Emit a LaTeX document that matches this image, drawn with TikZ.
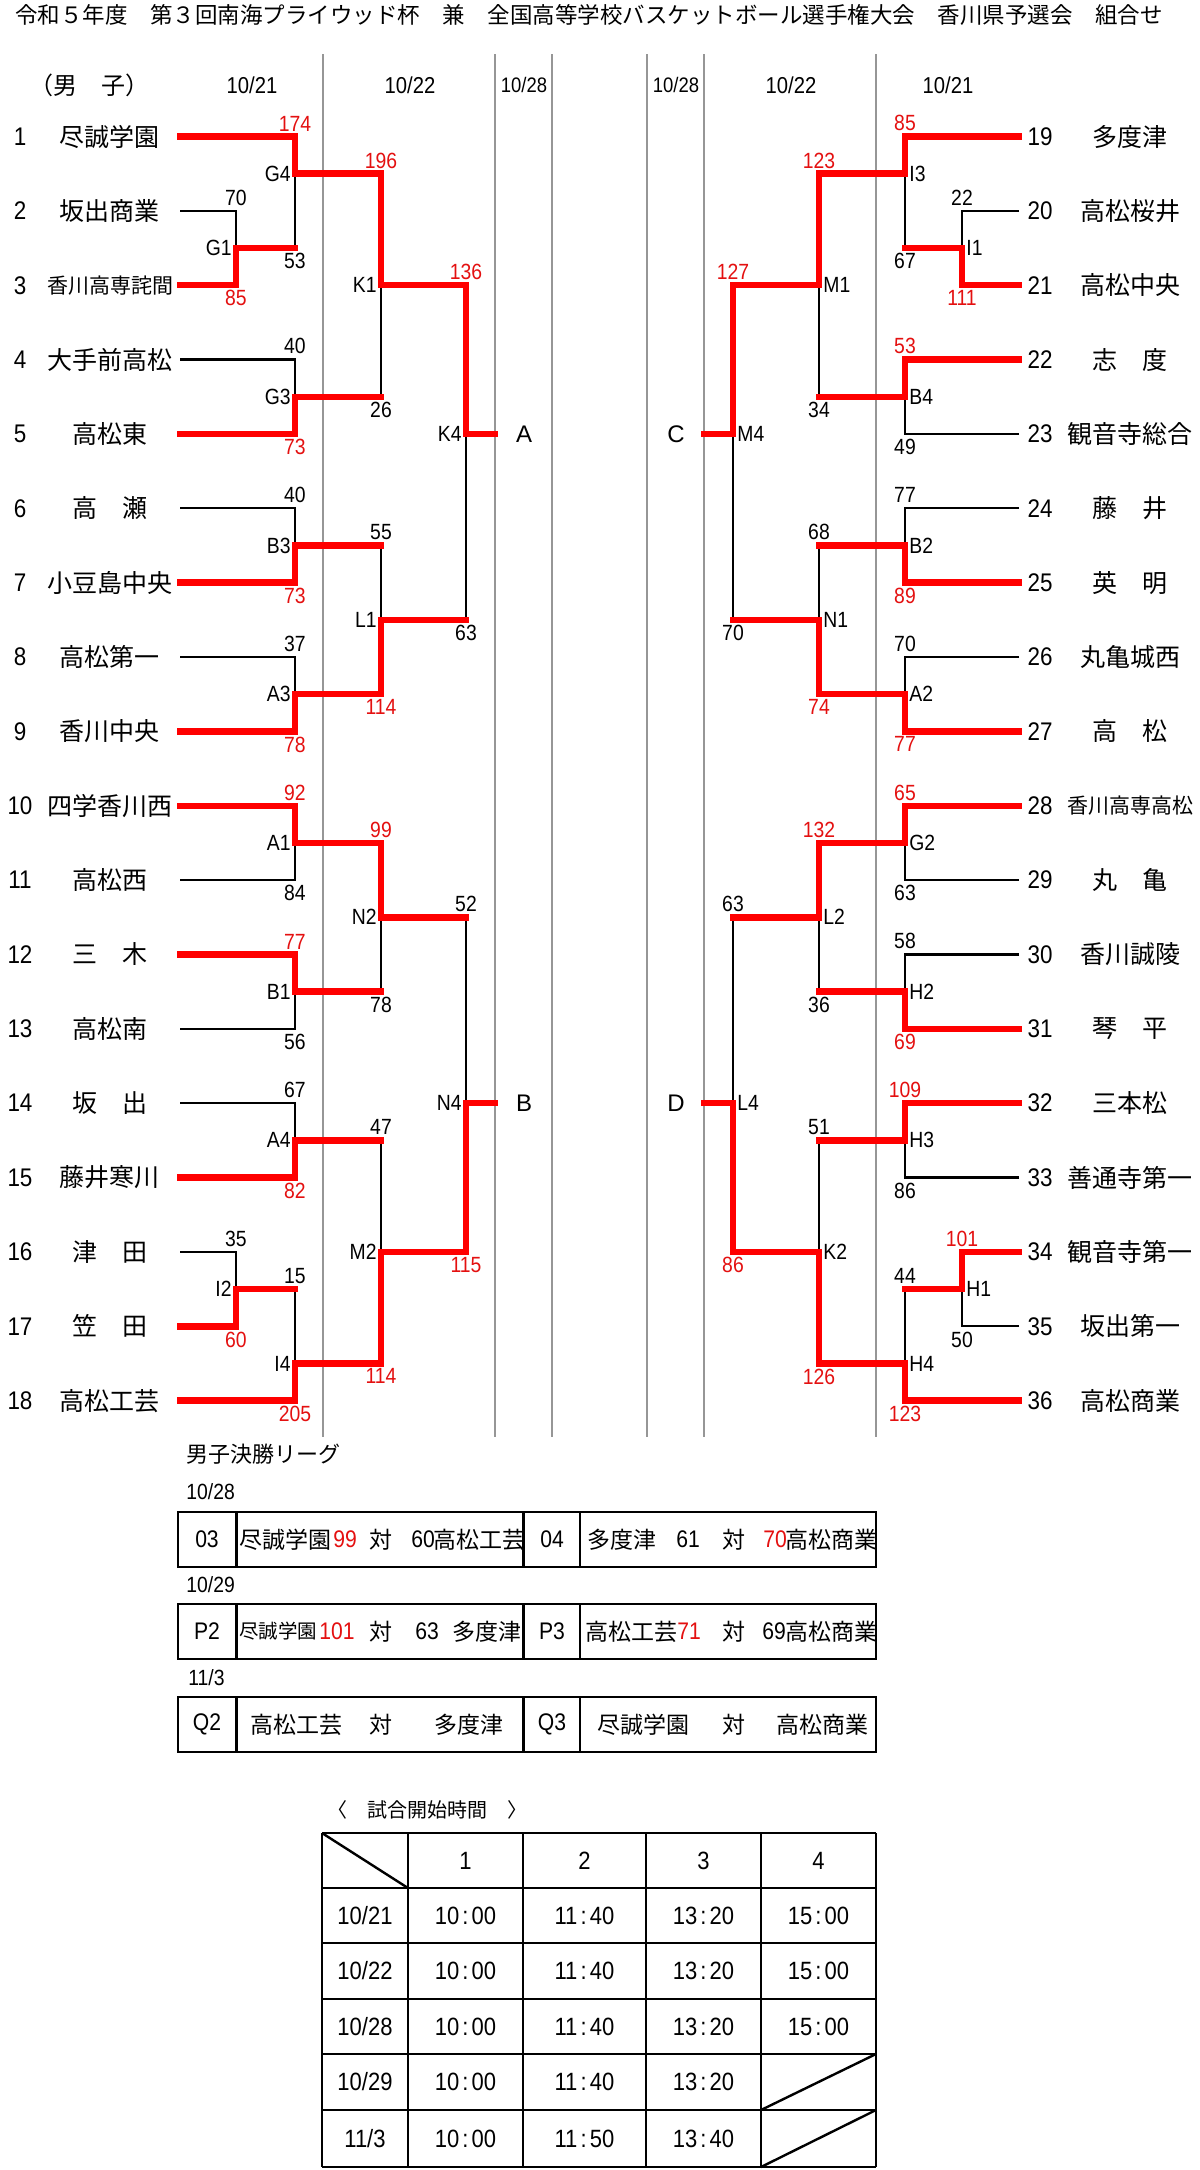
\documentclass[tikz,border=0pt]{standalone}
\usepackage{fontspec}
\setmainfont{Noto Sans CJK JP}
\newfontfamily\numf{Liberation Sans}[FakeStretch=0.88]
\newfontfamily\latf{Liberation Sans}
\pgfdeclarelayer{back}
\pgfdeclarelayer{bg}
\pgfsetlayers{back,bg,main}
\definecolor{rline}{RGB}{255,0,0}
\definecolor{rtxt}{RGB}{228,16,16}
\definecolor{gcol}{RGB}{150,150,150}
\newcommand{\RowY}[1]{136.5+#1*37.18}
\newcommand{\wfeed}[2]{\draw[win] (#1) -| (#2);}
\newcommand{\lteam}[2]{\begin{pgfonlayer}{bg}\draw[lose] (#1) -| (#2);\end{pgfonlayer}}
\newcommand{\lmatch}[2]{\draw[win] (#1) -- (#1 -| #2);\begin{pgfonlayer}{bg}\draw[lose] (#1 -| #2) -- (#2);\end{pgfonlayer}}
\newcommand{\usc}[4][black]{\node[score,text=#1,anchor=south] (s-#2-#3) at (#2 -| #3) {#4};}
\newcommand{\dsc}[4][black]{\node[score,text=#1,anchor=north] (s-#2-#3) at (#2 -| #3) {#4};}
\newcommand{\mL}[2]{\node[mlab,anchor=east] (lab-#1) at (#1) {#2};}
\newcommand{\mR}[2]{\node[mlab,anchor=west] (lab-#1) at (#1) {#2};}
\newcommand{\tm}[2]{#1\kern1.6pt:\kern1.6pt#2}
\begin{document}
\begin{tikzpicture}[x=0.5pt,y=-0.5pt,
  win/.style={draw=rline,line width=3.25pt,line cap=rect,line join=miter},
  lose/.style={draw=black,line width=1.1pt,line join=miter},
  gline/.style={draw=gcol,line width=0.7pt},
  score/.style={font=\numf\fontsize{11}{12}\selectfont,inner sep=2.5pt},
  mlab/.style={font=\numf\fontsize{11}{12}\selectfont,inner sep=2pt},
  tname/.style={font=\fontsize{12.5}{14}\selectfont,inner sep=0pt},
  tnum/.style={font=\numf\fontsize{12.75}{14}\selectfont,inner sep=0pt},
  datelab/.style={font=\numf\fontsize{11.5}{13}\selectfont,inner sep=0pt},
  abcd/.style={font=\latf\fontsize{12}{14}\selectfont,inner sep=0pt},
  tbl/.style={draw=black,line width=1.3pt},
  tgrid/.style={draw=black,line width=1pt},
  ttxt/.style={font=\fontsize{11.5}{13}\selectfont,inner sep=0pt},
  tdig/.style={font=\numf\fontsize{12}{13}\selectfont,inner sep=0pt},
  stxt/.style={font=\numf\fontsize{12.5}{14}\selectfont,inner sep=0pt}]
\useasboundingbox (0,0) rectangle (1200,2170);
\begin{pgfonlayer}{back}
\fill[white] (0,0) rectangle (1200,2170);
\end{pgfonlayer}

% title
\node[anchor=west,inner sep=0pt,font=\fontsize{11.25}{13}\selectfont] (title) at (15,15) {令和５年度　第３回南海プライウッド杯　兼　全国高等学校バスケットボール選手権大会　香川県予選会　組合せ};

% column lines and dates
\begin{pgfonlayer}{bg}
\foreach \x in {323,495,552,647,704,876} \draw[gline] (\x,54) -- (\x,1437);
\end{pgfonlayer}
\node[font=\fontsize{12}{14}\selectfont,inner sep=0pt] (danshi) at (89,85) {（男　子）};
\node[datelab] (dl1) at (252,85) {10/21};
\node[datelab] (dl2) at (410,85) {10/22};
\node[datelab,font=\numf\fontsize{10.5}{12}\selectfont] (dl3) at (524,85) {10/28};
\node[datelab,font=\numf\fontsize{10.5}{12}\selectfont] (dr3) at (676,85) {10/28};
\node[datelab] (dr2) at (791,85) {10/22};
\node[datelab] (dr1) at (948,85) {10/21};

% team coordinates
\foreach \k in {1,...,18}{\coordinate (t\k) at (180,{\RowY{(2*\k-2)}});}
\foreach \k in {19,...,36}{\coordinate (t\k) at (1019,{\RowY{(2*\k-38)}});}

% team names
\foreach \k/\nm in {1/尽誠学園,2/坂出商業,3/{\fontsize{10.5}{12}\selectfont 香川高専詫間},4/大手前高松,5/高松東,6/高　瀬,7/小豆島中央,8/高松第一,9/香川中央,10/四学香川西,11/高松西,12/三　木,13/高松南,14/坂　出,15/藤井寒川,16/津　田,17/笠　田,18/高松工芸}{
  \node[tname] (nm\k) at (110,{\RowY{(2*\k-2)}}) {\nm};
  \node[tnum] (no\k) at (20,{\RowY{(2*\k-2)}}) {\k};
}
\foreach \k/\nm in {19/多度津,20/高松桜井,21/高松中央,22/志　度,23/観音寺総合,24/藤　井,25/英　明,26/丸亀城西,27/高　松,28/{\fontsize{10.5}{12}\selectfont 香川高専高松},29/丸　亀,30/香川誠陵,31/琴　平,32/三本松,33/善通寺第一,34/観音寺第一,35/坂出第一,36/高松商業}{
  \node[tname] (nm\k) at (1130,{\RowY{(2*\k-38)}}) {\nm};
  \node[tnum] (no\k) at (1040,{\RowY{(2*\k-38)}}) {\k};
}

% match coordinates (left)
\coordinate (G1) at (236,{\RowY{3}});
\coordinate (G4) at (295,{\RowY{1}});
\coordinate (G3) at (295,{\RowY{7}});
\coordinate (K1) at (381,{\RowY{4}});
\coordinate (B3) at (295,{\RowY{11}});
\coordinate (A3) at (295,{\RowY{15}});
\coordinate (L1) at (381,{\RowY{13}});
\coordinate (K4) at (466,{\RowY{8}});
\coordinate (A1) at (295,{\RowY{19}});
\coordinate (B1) at (295,{\RowY{23}});
\coordinate (N2) at (381,{\RowY{21}});
\coordinate (A4) at (295,{\RowY{27}});
\coordinate (I2) at (236,{\RowY{31}});
\coordinate (I4) at (295,{\RowY{33}});
\coordinate (M2) at (381,{\RowY{30}});
\coordinate (N4) at (466,{\RowY{26}});
% match coordinates (right)
\coordinate (I1) at (962,{\RowY{3}});
\coordinate (I3) at (905,{\RowY{1}});
\coordinate (B4) at (905,{\RowY{7}});
\coordinate (M1) at (819,{\RowY{4}});
\coordinate (B2) at (905,{\RowY{11}});
\coordinate (A2) at (905,{\RowY{15}});
\coordinate (N1) at (819,{\RowY{13}});
\coordinate (M4) at (733,{\RowY{8}});
\coordinate (G2) at (905,{\RowY{19}});
\coordinate (H2) at (905,{\RowY{23}});
\coordinate (L2) at (819,{\RowY{21}});
\coordinate (H3) at (905,{\RowY{27}});
\coordinate (H1) at (962,{\RowY{31}});
\coordinate (H4) at (905,{\RowY{33}});
\coordinate (K2) at (819,{\RowY{30}});
\coordinate (L4) at (733,{\RowY{26}});
% block ends
\coordinate (Aend) at (495,{\RowY{8}});
\coordinate (Bend) at (495,{\RowY{26}});
\coordinate (Cend) at (704,{\RowY{8}});
\coordinate (Dend) at (704,{\RowY{26}});

% ---------- left bracket ----------
\lteam{t2}{G1} \wfeed{t3}{G1} \usc{t2}{G1}{70} \dsc[rtxt]{t3}{G1}{85} \mL{G1}{G1}
\wfeed{t1}{G4} \lmatch{G1}{G4} \usc[rtxt]{t1}{G4}{174} \dsc{G1}{G4}{53} \mL{G4}{G4}
\lteam{t4}{G3} \wfeed{t5}{G3} \usc{t4}{G3}{40} \dsc[rtxt]{t5}{G3}{73} \mL{G3}{G3}
\wfeed{G4}{K1} \lmatch{G3}{K1} \usc[rtxt]{G4}{K1}{196} \dsc{G3}{K1}{26} \mL{K1}{K1}
\lteam{t6}{B3} \wfeed{t7}{B3} \usc{t6}{B3}{40} \dsc[rtxt]{t7}{B3}{73} \mL{B3}{B3}
\lteam{t8}{A3} \wfeed{t9}{A3} \usc{t8}{A3}{37} \dsc[rtxt]{t9}{A3}{78} \mL{A3}{A3}
\lmatch{B3}{L1} \wfeed{A3}{L1} \usc{B3}{L1}{55} \dsc[rtxt]{A3}{L1}{114} \mL{L1}{L1}
\wfeed{K1}{K4} \lmatch{L1}{K4} \usc[rtxt]{K1}{K4}{136} \dsc{L1}{K4}{63} \mL{K4}{K4}
\wfeed{t10}{A1} \lteam{t11}{A1} \usc[rtxt]{t10}{A1}{92} \dsc{t11}{A1}{84} \mL{A1}{A1}
\wfeed{t12}{B1} \lteam{t13}{B1} \usc[rtxt]{t12}{B1}{77} \dsc{t13}{B1}{56} \mL{B1}{B1}
\wfeed{A1}{N2} \lmatch{B1}{N2} \usc[rtxt]{A1}{N2}{99} \dsc{B1}{N2}{78} \mL{N2}{N2}
\lteam{t14}{A4} \wfeed{t15}{A4} \usc{t14}{A4}{67} \dsc[rtxt]{t15}{A4}{82} \mL{A4}{A4}
\lteam{t16}{I2} \wfeed{t17}{I2} \usc{t16}{I2}{35} \dsc[rtxt]{t17}{I2}{60} \mL{I2}{I2}
\lmatch{I2}{I4} \wfeed{t18}{I4} \usc{I2}{I4}{15} \dsc[rtxt]{t18}{I4}{205} \mL{I4}{I4}
\lmatch{A4}{M2} \wfeed{I4}{M2} \usc{A4}{M2}{47} \dsc[rtxt]{I4}{M2}{114} \mL{M2}{M2}
\lmatch{N2}{N4} \wfeed{M2}{N4} \usc{N2}{N4}{52} \dsc[rtxt]{M2}{N4}{115} \mL{N4}{N4}
\draw[win] (K4) -- (Aend);
\draw[win] (N4) -- (Bend);
\node[abcd] (blkA) at (524,{\RowY{8}}) {A};
\node[abcd] (blkB) at (524,{\RowY{26}}) {B};

% ---------- right bracket ----------
\lteam{t20}{I1} \wfeed{t21}{I1} \usc{t20}{I1}{22} \dsc[rtxt]{t21}{I1}{111} \mR{I1}{I1}
\wfeed{t19}{I3} \lmatch{I1}{I3} \usc[rtxt]{t19}{I3}{85} \dsc{I1}{I3}{67} \mR{I3}{I3}
\wfeed{t22}{B4} \lteam{t23}{B4} \usc[rtxt]{t22}{B4}{53} \dsc{t23}{B4}{49} \mR{B4}{B4}
\wfeed{I3}{M1} \lmatch{B4}{M1} \usc[rtxt]{I3}{M1}{123} \dsc{B4}{M1}{34} \mR{M1}{M1}
\lteam{t24}{B2} \wfeed{t25}{B2} \usc{t24}{B2}{77} \dsc[rtxt]{t25}{B2}{89} \mR{B2}{B2}
\lteam{t26}{A2} \wfeed{t27}{A2} \usc{t26}{A2}{70} \dsc[rtxt]{t27}{A2}{77} \mR{A2}{A2}
\lmatch{B2}{N1} \wfeed{A2}{N1} \usc{B2}{N1}{68} \dsc[rtxt]{A2}{N1}{74} \mR{N1}{N1}
\wfeed{M1}{M4} \lmatch{N1}{M4} \usc[rtxt]{M1}{M4}{127} \dsc{N1}{M4}{70} \mR{M4}{M4}
\wfeed{t28}{G2} \lteam{t29}{G2} \usc[rtxt]{t28}{G2}{65} \dsc{t29}{G2}{63} \mR{G2}{G2}
\lteam{t30}{H2} \wfeed{t31}{H2} \usc{t30}{H2}{58} \dsc[rtxt]{t31}{H2}{69} \mR{H2}{H2}
\wfeed{G2}{L2} \lmatch{H2}{L2} \usc[rtxt]{G2}{L2}{132} \dsc{H2}{L2}{36} \mR{L2}{L2}
\wfeed{t32}{H3} \lteam{t33}{H3} \usc[rtxt]{t32}{H3}{109} \dsc{t33}{H3}{86} \mR{H3}{H3}
\wfeed{t34}{H1} \lteam{t35}{H1} \usc[rtxt]{t34}{H1}{101} \dsc{t35}{H1}{50} \mR{H1}{H1}
\lmatch{H1}{H4} \wfeed{t36}{H4} \usc{H1}{H4}{44} \dsc[rtxt]{t36}{H4}{123} \mR{H4}{H4}
\lmatch{H3}{K2} \wfeed{H4}{K2} \usc{H3}{K2}{51} \dsc[rtxt]{H4}{K2}{126} \mR{K2}{K2}
\lmatch{L2}{L4} \wfeed{K2}{L4} \usc{L2}{L4}{63} \dsc[rtxt]{K2}{L4}{86} \mR{L4}{L4}
\draw[win] (M4) -- (Cend);
\draw[win] (L4) -- (Dend);
\node[abcd] (blkC) at (676,{\RowY{8}}) {C};
\node[abcd] (blkD) at (676,{\RowY{26}}) {D};

% ---------- final league ----------
\node[anchor=west,inner sep=0pt,font=\fontsize{11}{13}\selectfont] (league) at (186,1454) {男子決勝リーグ};
\node[anchor=west,datelab,font=\numf\fontsize{11}{12}\selectfont] (fd1) at (186,1492) {10/28};
\node[anchor=west,datelab,font=\numf\fontsize{11}{12}\selectfont] (fd2) at (186,1585) {10/29};
\node[anchor=west,datelab,font=\numf\fontsize{11}{12}\selectfont] (fd3) at (188,1678) {11/3};
\foreach \yt/\yb in {1512/1567,1604/1659,1697/1752}{
  \draw[tbl] (178,\yt) rectangle (876,\yb);
  \foreach \x in {236.6,523.5,580} \draw[tbl] (\x,\yt) -- (\x,\yb);
}
% row 1
\node[tdig] (c11) at (207,1539.5) {03};
\node[ttxt,anchor=west] (c12) at (239,1539.5) {尽誠学園};
\node[tdig,anchor=west,text=rtxt] (c13) at (333,1539.5) {99};
\node[ttxt] (c14) at (381,1539.5) {対};
\node[tdig,anchor=west] (c15) at (411,1539.5) {60};
\node[ttxt,anchor=west] (c16) at (433,1539.5) {高松工芸};
\node[tdig] (c17) at (552,1539.5) {04};
\node[ttxt,anchor=west] (c18) at (587,1539.5) {多度津};
\node[tdig,anchor=west] (c19) at (676,1539.5) {61};
\node[ttxt] (c1a) at (733.5,1539.5) {対};
\node[tdig,anchor=west,text=rtxt] (c1b) at (763,1539.5) {70};
\node[ttxt,anchor=west] (c1c) at (785,1539.5) {高松商業};
% row 2
\node[tdig] (c21) at (207,1631.5) {P2};
\node[ttxt,anchor=west,font=\fontsize{9.75}{11}\selectfont] (c22) at (239,1631.5) {尽誠学園};
\node[tdig,anchor=west,text=rtxt] (c23) at (319,1631.5) {101};
\node[ttxt] (c24) at (381,1631.5) {対};
\node[tdig,anchor=west] (c25) at (415,1631.5) {63};
\node[ttxt,anchor=west] (c26) at (452,1631.5) {多度津};
\node[tdig] (c27) at (552,1631.5) {P3};
\node[ttxt,anchor=west] (c28) at (585,1631.5) {高松工芸};
\node[tdig,anchor=west,text=rtxt] (c29) at (677,1631.5) {71};
\node[ttxt] (c2a) at (733.5,1631.5) {対};
\node[tdig,anchor=west] (c2b) at (762,1631.5) {69};
\node[ttxt,anchor=west] (c2c) at (785,1631.5) {高松商業};
% row 3
\node[tdig] (c31) at (207,1724.5) {Q2};
\node[ttxt,anchor=west] (c32) at (250,1724.5) {高松工芸};
\node[ttxt] (c33) at (381,1724.5) {対};
\node[ttxt,anchor=west] (c34) at (434,1724.5) {多度津};
\node[tdig] (c35) at (552,1724.5) {Q3};
\node[ttxt,anchor=west] (c36) at (597,1724.5) {尽誠学園};
\node[ttxt] (c37) at (733.5,1724.5) {対};
\node[ttxt,anchor=west] (c38) at (776,1724.5) {高松商業};

% ---------- start times ----------
\node[inner sep=0pt,font=\fontsize{10}{12}\selectfont] (sttitle) at (427,1810) {〈　試合開始時間　〉};
\foreach \x in {322,408,523,646,761,876} \draw[tgrid] (\x,1833) -- (\x,2167);
\foreach \y in {1833,1888,1943,1999,2054,2110,2167} \draw[tgrid] (322,\y) -- (876,\y);
\draw[tgrid,line width=1.2pt] (322,1833) -- (408,1888);
\draw[tgrid,line width=1.2pt] (761,2110) -- (876,2054);
\draw[tgrid,line width=1.2pt] (761,2167) -- (876,2110);
\node[stxt] (h1) at (465.5,1860.5) {1};
\node[stxt] (h2) at (584.5,1860.5) {2};
\node[stxt] (h3) at (703.5,1860.5) {3};
\node[stxt] (h4) at (818.5,1860.5) {4};
% row labels
\node[stxt] (r1) at (365,1915.5) {10/21};
\node[stxt] (r2) at (365,1971) {10/22};
\node[stxt] (r3) at (365,2026.5) {10/28};
\node[stxt] (r4) at (365,2082) {10/29};
\node[stxt] (r5) at (365,2138.5) {11/3};
\foreach \y/\r in {1915.5/1,1971/2,2026.5/3}{
  \node[stxt] (v\r a) at (465.5,\y) {\tm{10}{00}};
  \node[stxt] (v\r b) at (584.5,\y) {\tm{11}{40}};
  \node[stxt] (v\r c) at (703.5,\y) {\tm{13}{20}};
  \node[stxt] (v\r d) at (818.5,\y) {\tm{15}{00}};
}
\node[stxt] (v4a) at (465.5,2082) {\tm{10}{00}};
\node[stxt] (v4b) at (584.5,2082) {\tm{11}{40}};
\node[stxt] (v4c) at (703.5,2082) {\tm{13}{20}};
\node[stxt] (v5a) at (465.5,2138.5) {\tm{10}{00}};
\node[stxt] (v5b) at (584.5,2138.5) {\tm{11}{50}};
\node[stxt] (v5c) at (703.5,2138.5) {\tm{13}{40}};
\end{tikzpicture}
\end{document}
